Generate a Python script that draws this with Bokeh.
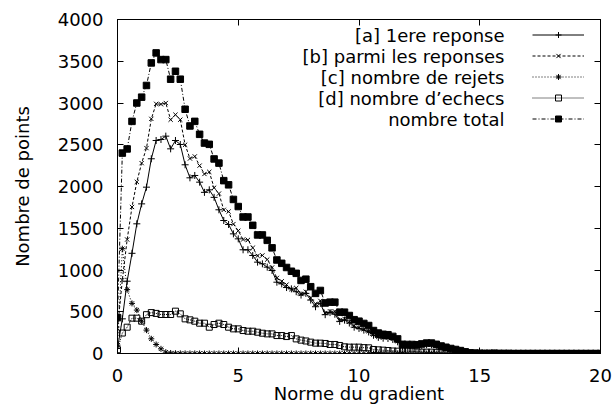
from bokeh.plotting import figure
from bokeh.models import (Range1d, LinearAxis, Legend, LegendItem, Label, FixedTicker,
                          CustomLabelingPolicy)
from bokeh.embed import file_html
from bokeh.resources import INLINE

# x grid: gradient norm bins (step 0.2 from 0 to 20)
gradient_norm = [i / 5 for i in range(101)]

first_answer = [
    60, 415, 866, 1200, 1553, 1792, 1992, 2332, 2551, 2563,
    2603, 2451, 2551, 2503, 2260, 2104, 2132, 2052, 1930, 1960,
    1870, 1721, 1593, 1545, 1433, 1373, 1242, 1242, 1174, 1094,
    1074, 1034, 994, 854, 834, 790, 774, 740, 700, 720,
    640, 560, 600, 465, 490, 470, 385, 400, 365, 315,
    300, 280, 258, 218, 193, 183, 180, 168, 140, 78,
    76, 78, 80, 94, 104, 104, 92, 76, 66, 53,
    44, 32, 19, 7, 4, 2, 2, 2, 3, 1,
    1, 1, 0, 0, 0, 0, 0, 0, 0, 0,
    0, 0, 0, 0, 0, 0, 0, 0, 0, 0,
    0]

among_answers = [
    296, 880, 1365, 1755, 2055, 2280, 2460, 2810, 2990, 2985,
    3000, 2800, 2860, 2800, 2500, 2335, 2360, 2250, 2150, 2175,
    1985, 1915, 1720, 1700, 1550, 1470, 1365, 1360, 1265, 1170,
    1175, 1125, 1030, 905, 865, 825, 770, 785, 715, 740,
    665, 595, 630, 485, 505, 505, 400, 415, 380, 330,
    310, 290, 267, 227, 200, 190, 188, 175, 147, 82,
    80, 82, 85, 99, 109, 109, 96, 80, 69, 56,
    46, 34, 19, 8, 5, 3, 2, 2, 4, 1,
    1, 1, 0, 0, 0, 0, 0, 0, 0, 0,
    0, 0, 0, 0, 0, 0, 0, 0, 0, 0,
    0]

rejections = [
    100, 1255, 765, 600, 520, 387, 280, 176, 108, 56,
    16, 6, 3, 2, 1, 1, 1, 1, 0, 0,
    0, 0, 0, 0, 0, 0, 0, 0, 0, 0,
    0, 0, 0, 0, 0, 0, 0, 0, 0, 0,
    0, 0, 0, 0, 0, 0, 0, 0, 0, 0,
    0, 0, 0, 0, 0, 0, 0, 0, 0, 0,
    0, 0, 0, 0, 0, 0, 0, 0, 0, 0,
    0, 0, 0, 0, 0, 0, 0, 0, 0, 0,
    0, 0, 0, 0, 0, 0, 0, 0, 0, 0,
    0, 0, 0, 0, 0, 0, 0, 0, 0, 0,
    0]

failures = [
    45, 245, 315, 423, 423, 387, 465, 490, 480, 467,
    467, 467, 507, 475, 415, 403, 387, 363, 363, 315,
    347, 363, 347, 315, 295, 295, 275, 267, 267, 255,
    243, 235, 235, 215, 215, 203, 215, 175, 160, 150,
    136, 124, 124, 120, 108, 108, 96, 80, 76, 76,
    76, 70, 68, 48, 44, 40, 36, 30, 28, 28,
    28, 26, 20, 16, 16, 16, 14, 10, 6, 4,
    2, 1, 1, 0, 0, 0, 0, 0, 0, 0,
    0, 0, 0, 0, 0, 0, 0, 0, 0, 0,
    0, 0, 0, 0, 0, 0, 0, 0, 0, 0,
    0]

total = [
    430, 2400, 2450, 2780, 3000, 3070, 3210, 3480, 3600, 3520,
    3520, 3285, 3380, 3285, 2925, 2725, 2780, 2625, 2520, 2505,
    2330, 2280, 2070, 2020, 1845, 1760, 1635, 1635, 1535, 1420,
    1420, 1355, 1265, 1120, 1080, 1030, 985, 960, 875, 890,
    800, 720, 755, 605, 615, 615, 495, 495, 455, 405,
    387, 360, 335, 275, 245, 230, 225, 205, 175, 110,
    108, 108, 105, 115, 125, 125, 110, 90, 75, 60,
    48, 35, 20, 8, 5, 3, 2, 2, 4, 1,
    1, 1, 0, 0, 0, 0, 0, 0, 0, 0,
    0, 0, 0, 0, 0, 0, 0, 0, 0, 0,
    0]

series_labels = ["[a] 1ere reponse", "[b] parmi les reponses", "[c] nombre de rejets",
                 "[d] nombre d\u2019echecs", "nombre total"]
x_ticks = [0, 5, 10, 15, 20]
y_ticks = [0, 500, 1000, 1500, 2000, 2500, 3000, 3500, 4000]

FONT = "DejaVu Sans"
FS = "18px"

p = figure(width=613, height=406, output_backend="svg", toolbar_location=None,
           x_range=Range1d(0, 20), y_range=Range1d(0, 4000),
           min_border_left=117, min_border_right=13, min_border_top=19, min_border_bottom=53,
           background_fill_color="white", border_fill_color="white")
p.grid.visible = False
p.outline_line_color = "black"
p.outline_line_width = 1

for ax in (p.xaxis[0], p.yaxis[0]):
    ax.major_tick_in = 6
    ax.major_tick_out = 0
    ax.minor_tick_in = 0
    ax.minor_tick_out = 0
    ax.axis_line_color = "black"
    ax.major_tick_line_color = "black"
    ax.major_label_text_font = FONT
    ax.major_label_text_font_size = FS
    ax.major_label_text_color = "black"
    ax.axis_label_text_font = FONT
    ax.axis_label_text_font_size = FS
    ax.axis_label_text_font_style = "normal"
    ax.axis_label_text_color = "black"

p.xaxis[0].ticker = FixedTicker(ticks=x_ticks)
p.yaxis[0].ticker = FixedTicker(ticks=y_ticks)
p.xaxis[0].major_label_standoff = 15
p.yaxis[0].major_label_standoff = 14
p.xaxis[0].axis_label = "Norme du gradient"
p.yaxis[0].axis_label = "Nombre de points"
p.xaxis[0].axis_label_standoff = -2
p.yaxis[0].axis_label_standoff = 22

hide_labels = """
for (const i of Array.from(indices)) { indices.unset(i) }
return indices
"""
mirror_style = dict(major_tick_in=6, major_tick_out=0, minor_tick_in=0, minor_tick_out=0,
                    major_label_standoff=0, major_label_text_font_size="0px",
                    axis_line_color="black")
top_axis = LinearAxis(ticker=FixedTicker(ticks=x_ticks),
                      major_label_policy=CustomLabelingPolicy(code=hide_labels), **mirror_style)
right_axis = LinearAxis(ticker=FixedTicker(ticks=y_ticks),
                        major_label_policy=CustomLabelingPolicy(code=hide_labels), **mirror_style)
p.add_layout(top_axis, "above")
p.add_layout(right_axis, "right")

styles = [
    (first_answer, "solid", "cross", 7, dict(fill_color=None)),
    (among_answers, "3 2", "x", 6, dict(fill_color=None)),
    (rejections, "1 2", "asterisk", 6, dict(fill_color=None)),
    (failures, "1 1", "square", 6, dict(fill_color=None)),
    (total, "4 2 1 2", "square", 6.5, dict(fill_color="black")),
]

items = []
for (vals, dash, marker, size, extra), lab in zip(styles, series_labels):
    lr = p.line(gradient_norm, vals, line_color="black", line_width=1, line_dash=dash)
    sr = p.scatter(gradient_norm, vals, marker=marker, size=size, line_color="black",
                   line_width=1, **extra)
    items.append(LegendItem(label=" ", renderers=[lr, sr]))

legend = Legend(items=items, location="top_right", glyph_width=52, glyph_height=15,
                spacing=6, padding=0, margin=8, label_standoff=0, label_width=8,
                label_height=15, label_text_font_size="1px",
                border_line_alpha=0, background_fill_alpha=0)
p.add_layout(legend)

for i, lab in enumerate(series_labels):
    p.add_layout(Label(x=387, y=318.5 - 21 * i, x_units="screen", y_units="screen",
                       text=lab, text_align="right", text_baseline="middle",
                       text_font=FONT, text_font_size=FS, text_color="black"))

open("out.html", "w").write(file_html(p, INLINE))
